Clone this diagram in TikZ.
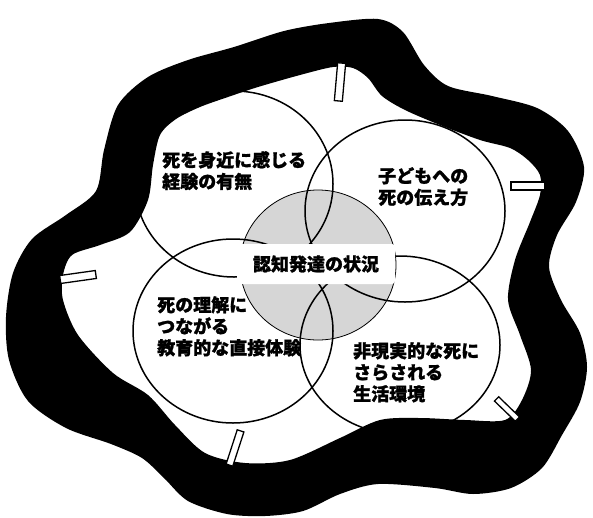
\documentclass[tikz,border=0pt]{standalone}
\usepackage{fontspec}
\newfontfamily\jp{Noto Sans CJK JP}[BoldFeatures={FakeBold=1.2}]
\begin{document}
\begin{tikzpicture}[x=1pt,y=-1pt,
  ring/.style={draw=black, line width=1.5pt},
  lbl/.style={font={\jp\bfseries\fontsize{18}{21.5}\selectfont}, align=left, inner sep=0pt, anchor=north west},
  tab/.style={draw=black, fill=white, line width=1.3pt, inner sep=0pt}]
\useasboundingbox (0,0) rectangle (593,517);
\fill[white] (0,0) rectangle (593,517);
% centres
\coordinate (c1) at (234,184);
\coordinate (c2) at (405,211);
\coordinate (c3) at (233,331);
\coordinate (c4) at (400,345);
\coordinate (c0) at (318,265);
% central grey disc
\fill[black!16] (c0) ellipse [x radius=78, y radius=75];
\draw[ring] (c1) ellipse [x radius=99, y radius=93];
\draw[ring] (c2) ellipse [x radius=100, y radius=91];
\draw[ring] (c3) ellipse [x radius=100, y radius=92];
\draw[ring] (c4) ellipse [x radius=100, y radius=89];
\draw[line width=0.8pt] (c0) ellipse [x radius=78, y radius=75];
% band
\fill[black, even odd rule]
 plot[smooth cycle] coordinates {(284,31) (329,23) (378,19) (403,32) (424,65) (448,86) (492,96) (537,108) (568,131) (584,167) (576,202) (557,235) (549,267) (561,300) (580,333) (587,367) (580,402) (562,435) (542,468) (511,488) (473,494) (435,488) (378,484) (340,494) (303,511) (265,516) (227,514) (188,501) (164,478) (142,458) (111,444) (66,428) (28,401) (9,360) (6,317) (13,273) (32,239) (66,215) (96,191) (104,150) (118,105) (148,77) (188,60) (234,47)}
 plot[smooth cycle] coordinates {(258,87) (300,75) (333,67) (353,68) (368,78) (382,96) (405,110) (440,125) (480,140) (510,148) (528,160) (540,175) (540,195) (530,222) (515,260) (508,300) (520,335) (531,370) (522,400) (505,420) (465,420) (420,418) (380,420) (340,438) (290,460) (245,463) (205,453) (175,425) (148,395) (113,373) (78,335) (63,300) (63,275) (72,255) (100,245) (130,232) (148,200) (153,165) (160,135) (176,119) (200,107) (228,97)};
% tabs
\node[tab, minimum width=8pt, minimum height=38pt, rotate=-5] (tabT) at (340,82) {};
\node[tab, minimum width=34pt, minimum height=8pt] (tabR) at (528,186) {};
\node[tab, minimum width=36pt, minimum height=8pt, rotate=8] (tabL) at (78,277) {};
\node[tab, minimum width=7pt, minimum height=36pt, rotate=-18] (tabB) at (235,448) {};
\node[tab, minimum width=29pt, minimum height=6pt, rotate=-44] (tabBR) at (507,409) {};
% labels
\node[fill=white, rounded corners=3pt, inner sep=0pt, minimum width=158pt, minimum height=40pt,
      font={\jp\bfseries\fontsize{18}{21.5}\selectfont}] (mid) at (316,264) {認知発達の状況};
\node[lbl] (t1) at (162,151) {死を身近に感じる\\経験の有無};
\node[lbl] (t2) at (378,167) {子どもへの\\死の伝え方};
\node[lbl] (t3) at (157,296) {死の理解に\\つながる\\教育的な直接体験};
\node[lbl] (t4) at (353,342) {非現実的な死に\\さらされる\\生活環境};
\end{tikzpicture}
\end{document}
